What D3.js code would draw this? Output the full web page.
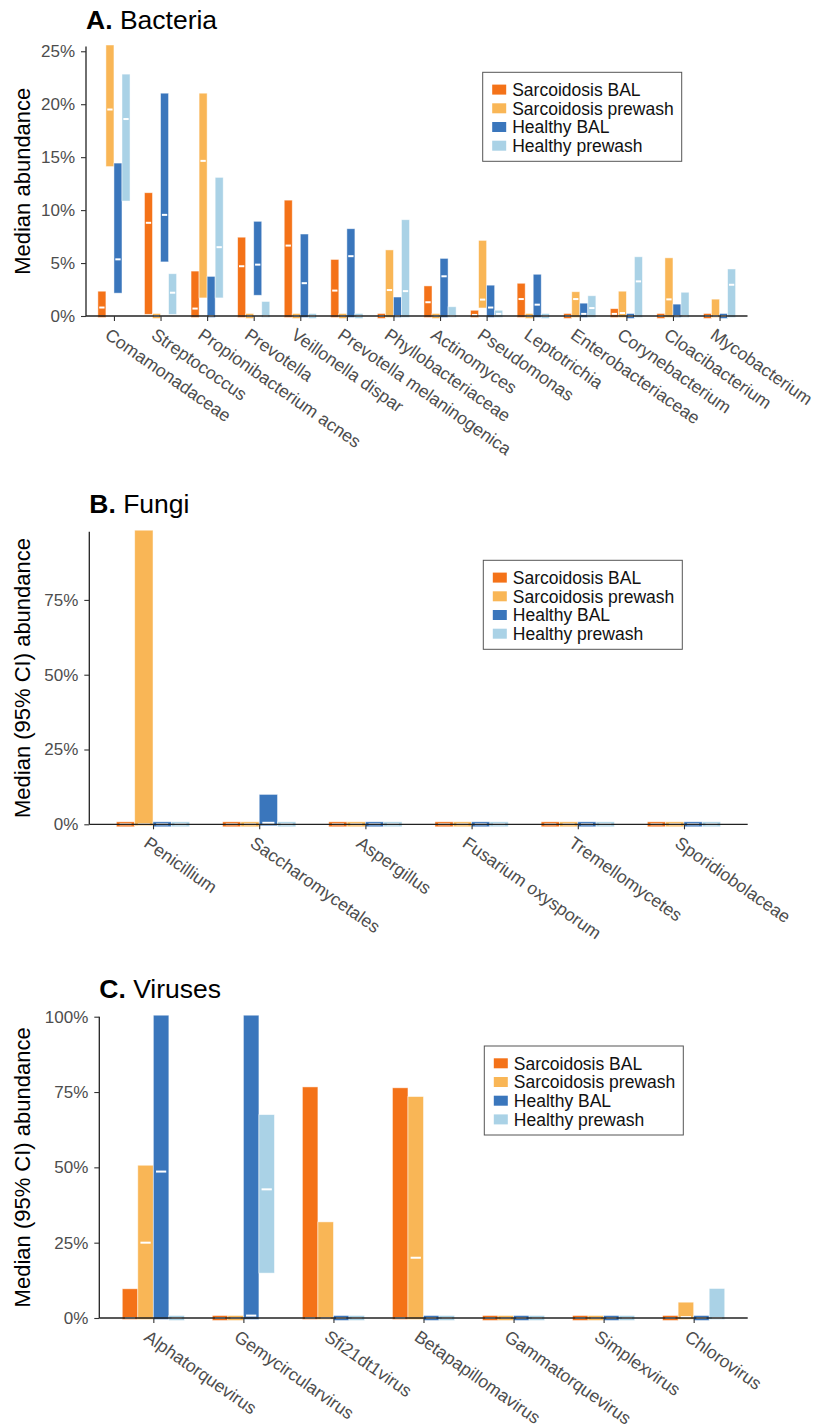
<!DOCTYPE html>
<html>
<head>
<meta charset="utf-8">
<script src="https://cdn.jsdelivr.net/npm/d3@7"></script>
<style>
  body { margin: 0; background: #fff; }
  svg { font-family: "Liberation Sans", Arial, Helvetica, sans-serif; display: block; }
</style>
</head>
<body>
<svg width="817" height="1425"></svg>
<script>
// Groups and colours
const groups = ["Sarcoidosis BAL", "Sarcoidosis prewash", "Healthy BAL", "Healthy prewash"];
const groupColors = ["#F47218", "#F9B656", "#3A76BC", "#AAD2E6"];

// A. Bacteria -- each entry is [low, median, high] in %
const bacteriaTaxa = ["Comamonadaceae", "Streptococcus", "Propionibacterium acnes", "Prevotella",
  "Veillonella dispar", "Prevotella melaninogenica", "Phyllobacteriaceae", "Actinomyces",
  "Pseudomonas", "Leptotrichia", "Enterobacteriaceae", "Corynebacterium", "Cloacibacterium", "Mycobacterium"];
const bacteriaSarcBAL = [[0, 0.8, 2.2], [0.3, 8.8, 11.5], [0, 0.7, 4.1], [0, 4.7, 7.3], [0, 6.65, 10.8],
  [0, 2.4, 5.2], [0, 0, 0], [0, 1.3, 2.7], [0, 0.1, 0.4], [0, 1.6, 2.95], [0, 0, 0], [0, 0.2, 0.55], [0, 0, 0], [0, 0, 0]];
const bacteriaSarcPrewash = [[14.25, 19.5, 25.45], [0, 0, 0], [1.85, 14.65, 20.9], [0, 0, 0], [0, 0, 0],
  [0, 0, 0], [0, 2.45, 6.1], [0, 0, 0], [0.9, 1.55, 7.0], [0, 0, 0], [0, 1.6, 2.15], [0, 0.28, 2.2], [0, 1.57, 5.35], [0, 0, 1.45]];
const bacteriaHealthyBAL = [[2.3, 5.35, 14.3], [5.25, 9.55, 20.9], [0, 0, 3.6], [2.1, 4.85, 8.8], [0, 3.1, 7.6],
  [0, 5.65, 8.1], [0, 0, 1.65], [0, 3.75, 5.3], [0, 0.8, 2.77], [0, 1.07, 3.8], [0, 0.2, 1.07], [0, 0, 0], [0, 0, 0.98], [0, 0, 0]];
const bacteriaHealthyPrewash = [[11.0, 18.6, 22.7], [0.3, 2.2, 3.85], [1.85, 6.5, 12.95], [0, 0, 1.23], [0, 0, 0],
  [0, 0, 0], [0, 2.35, 8.95], [0, 0, 0.73], [0, 0.2, 0.4], [0, 0, 0], [0, 0.75, 1.77], [0, 3.27, 5.45], [0, 0, 2.1], [0, 2.95, 4.3]];
const bacteriaTicks = [0, 5, 10, 15, 20, 25];

// B. Fungi
const fungiTaxa = ["Penicillium", "Saccharomycetales", "Aspergillus", "Fusarium oxysporum", "Tremellomycetes", "Sporidiobolaceae"];
const fungiSarcBAL = [[0, 0, 0], [0, 0, 0], [0, 0, 0], [0, 0, 0], [0, 0, 0], [0, 0, 0]];
const fungiSarcPrewash = [[0, 0, 97.8], [0, 0, 0], [0, 0, 0], [0, 0, 0], [0, 0, 0], [0, 0, 0]];
const fungiHealthyBAL = [[0, 0, 0], [0, 0.5, 9.5], [0, 0, 0], [0, 0, 0], [0, 0, 0], [0, 0, 0]];
const fungiHealthyPrewash = [[0, 0, 0], [0, 0, 0], [0, 0, 0], [0, 0, 0], [0, 0, 0], [0, 0, 0]];
const fungiTicks = [0, 25, 50, 75];

// C. Viruses
const virusTaxa = ["Alphatorquevirus", "Gemycircularvirus", "Sfi21dt1virus", "Betapapillomavirus",
  "Gammatorquevirus", "Simplexvirus", "Chlorovirus"];
const virusSarcBAL = [[0, 0, 9.2], [0, 0, 0], [0, 0, 76.2], [0, 0, 75.9], [0, 0, 0], [0, 0, 0], [0, 0, 0]];
const virusSarcPrewash = [[0, 25, 50.2], [0, 0, 0], [0, 0, 31.4], [0, 20, 73], [0, 0, 0], [0, 0, 0], [0, 0.3, 4.75]];
const virusHealthyBAL = [[0, 48.6, 100], [0, 0.8, 100], [0, 0, 0], [0, 0, 0], [0, 0, 0], [0, 0, 0], [0, 0, 0]];
const virusHealthyPrewash = [[0, 0, 0], [15.4, 42.7, 67], [0, 0, 0], [0, 0, 0], [0, 0, 0], [0, 0, 0], [0, 0, 9.3]];
const virusTicks = [0, 25, 50, 75, 100];

const svg = d3.select("svg");

function drawPanel(cfg) {
  const g = svg.append("g");

  const x = d3.scalePoint()
    .domain(cfg.taxa)
    .range([cfg.left, cfg.right])
    .padding(0.6);

  const y = d3.scaleLinear()
    .domain([0, cfg.yMax])
    .range([cfg.bottom, cfg.top]);

  const groupWidth = x.step() * 0.69;
  const xGroup = d3.scaleBand()
    .domain(groups)
    .range([-groupWidth / 2, groupWidth / 2]);

  // flatten the series into bar records
  const bars = [];
  cfg.series.forEach((vals, gi) => {
    vals.forEach((v, i) => {
      bars.push({ taxon: cfg.taxa[i], group: groups[gi], color: groupColors[gi], low: v[0], med: v[1], high: v[2] });
    });
  });

  const pad = 1.5;
  const barX = d => x(d.taxon) + xGroup(d.group);
  const barTop = d => {
    const h = y(d.low) - y(d.high);
    return h < 2 ? y(d.high) - 2.5 : y(d.high) - pad;
  };
  const barH = d => {
    const h = y(d.low) - y(d.high);
    return h < 2 ? 5 : h + pad * 2;
  };

  g.selectAll(".bar")
    .data(bars)
    .enter()
    .append("rect")
    .attr("class", "bar")
    .attr("x", barX)
    .attr("y", barTop)
    .attr("width", xGroup.bandwidth())
    .attr("height", barH)
    .attr("fill", d => d.color)
    .attr("stroke", "#fff")
    .attr("stroke-opacity", 0.6)
    .attr("stroke-width", 0.8);

  // median marks
  g.selectAll(".median")
    .data(bars.filter(d => d.med !== null))
    .enter()
    .append("line")
    .attr("class", "median")
    .attr("x1", d => barX(d) + xGroup.bandwidth() * 0.17)
    .attr("x2", d => barX(d) + xGroup.bandwidth() * 0.83)
    .attr("y1", d => y(d.med))
    .attr("y2", d => y(d.med))
    .attr("stroke", "#fff")
    .attr("stroke-width", 2);

  // y axis
  const yAxis = g.append("g")
    .attr("transform", `translate(${cfg.left}, 0)`)
    .call(d3.axisLeft(y).tickValues(cfg.ticks).tickSize(5).tickPadding(6).tickFormat(d => d + "%"));
  yAxis.select(".domain").attr("stroke", "#222").attr("stroke-width", 1.3).attr("d", `M0,${cfg.top}V${cfg.bottom}`);
  yAxis.selectAll(".tick line").attr("stroke", "#333").attr("stroke-width", 1.1);
  yAxis.selectAll(".tick text").attr("fill", "#4d4d4d").style("font-size", "17px");

  // x axis
  const xAxis = g.append("g")
    .attr("transform", `translate(0, ${cfg.bottom})`)
    .call(d3.axisBottom(x).tickSize(5).tickFormat(""));
  xAxis.select(".domain").attr("stroke", "#222").attr("stroke-width", 1.3).attr("d", `M${cfg.left},0H${cfg.right}`);
  xAxis.selectAll(".tick line").attr("stroke", "#333").attr("stroke-width", 1.1);

  g.selectAll(".xlabel")
    .data(cfg.taxa)
    .enter()
    .append("text")
    .attr("class", "xlabel")
    .attr("transform", d => `translate(${x(d) - 3}, ${cfg.bottom + 11}) rotate(35)`)
    .attr("dy", "0.72em")
    .attr("fill", "#4d4d4d")
    .style("font-size", "17.6px")
    .text(d => d);

  // title
  const title = g.append("text")
    .attr("x", cfg.left)
    .attr("y", cfg.titleY)
    .style("font-size", "26.5px")
    .attr("fill", "#000");
  title.append("tspan").style("font-weight", "bold").text(cfg.letter + " ");
  title.append("tspan").text(cfg.title);

  // y axis title
  g.append("text")
    .attr("transform", `translate(30, ${(cfg.top + cfg.bottom) / 2}) rotate(-90)`)
    .attr("text-anchor", "middle")
    .style("font-size", "22px")
    .attr("fill", "#000")
    .text(cfg.yTitle);

  // legend
  const legend = g.append("g").attr("transform", `translate(${cfg.legendX}, ${cfg.legendY})`);
  legend.append("rect")
    .attr("width", 199)
    .attr("height", 89)
    .attr("fill", "#fff")
    .attr("stroke", "#555")
    .attr("stroke-width", 1);
  groups.forEach((name, i) => {
    const row = legend.append("g").attr("transform", `translate(0, ${17.3 + i * 18.7})`);
    row.append("rect")
      .attr("x", 9.5)
      .attr("y", -5)
      .attr("width", 14)
      .attr("height", 10)
      .attr("fill", groupColors[i]);
    row.append("text")
      .attr("x", 29.5)
      .attr("dy", "0.36em")
      .style("font-size", "17.5px")
      .attr("fill", "#111")
      .text(name);
  });
}

drawPanel({
  letter: "A.", title: "Bacteria", titleY: 29, yTitle: "Median abundance",
  taxa: bacteriaTaxa,
  series: [bacteriaSarcBAL, bacteriaSarcPrewash, bacteriaHealthyBAL, bacteriaHealthyPrewash],
  ticks: bacteriaTicks, yMax: 25.45,
  left: 86, right: 747.5, top: 46.5, bottom: 316,
  legendX: 482.7, legendY: 72.3
});

drawPanel({
  letter: "B.", title: "Fungi", titleY: 513, yTitle: "Median (95% CI) abundance",
  taxa: fungiTaxa,
  series: [fungiSarcBAL, fungiSarcPrewash, fungiHealthyBAL, fungiHealthyPrewash],
  ticks: fungiTicks, yMax: 97.8,
  left: 89.3, right: 747.7, top: 531.7, bottom: 824.3,
  legendX: 483.3, legendY: 560.3
});

drawPanel({
  letter: "C.", title: "Viruses", titleY: 998, yTitle: "Median (95% CI) abundance",
  taxa: virusTaxa,
  series: [virusSarcBAL, virusSarcPrewash, virusHealthyBAL, virusHealthyPrewash],
  ticks: virusTicks, yMax: 100,
  left: 99.3, right: 747.7, top: 1016.7, bottom: 1318,
  legendX: 484.3, legendY: 1046
});
</script>
</body>
</html>
